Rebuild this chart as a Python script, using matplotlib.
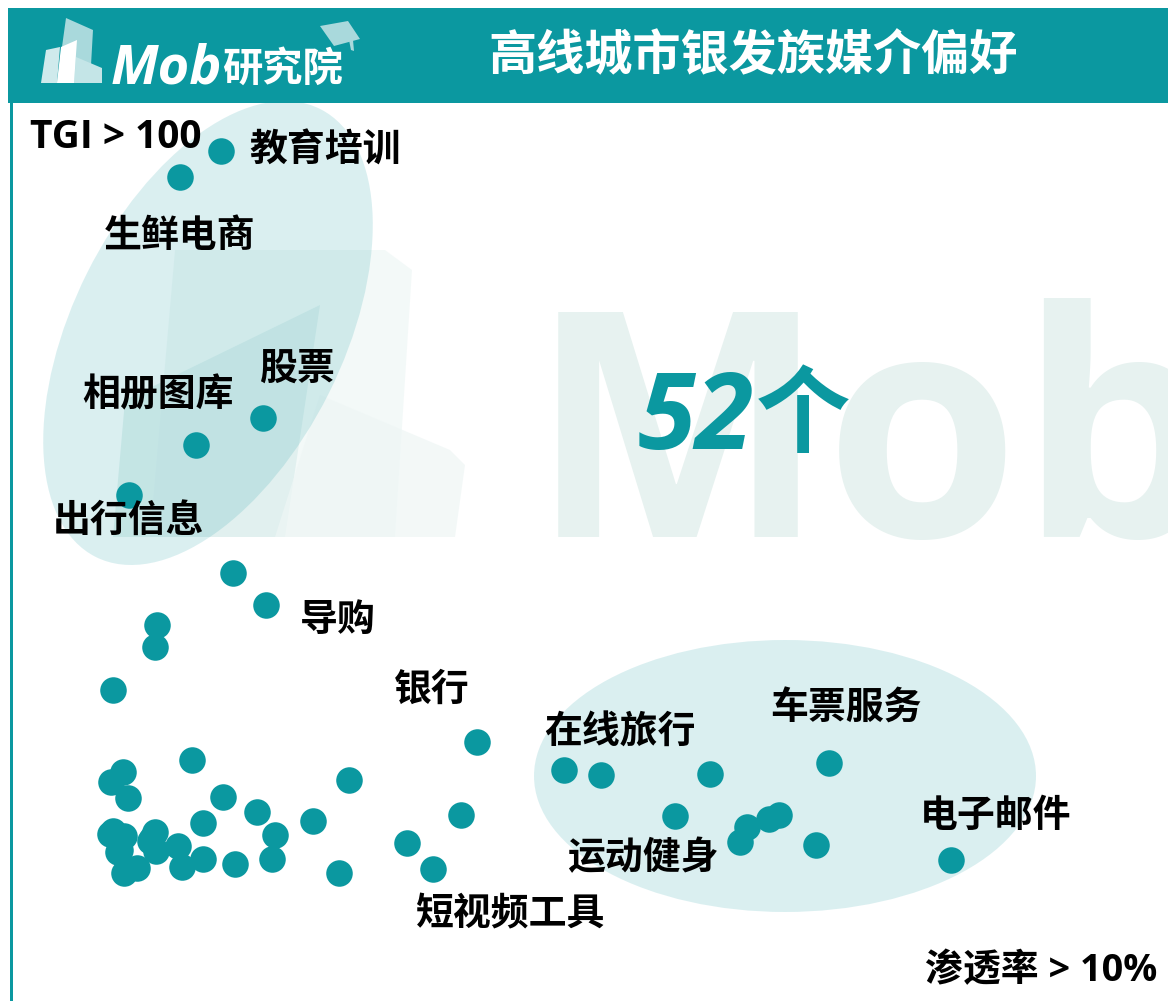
import matplotlib
matplotlib.use('Agg')
import matplotlib.pyplot as plt
from matplotlib.patches import Ellipse, Polygon, Rectangle

TEAL = '#0B98A0'
CJK = ['Open Sans', 'Noto Sans CJK SC', 'DejaVu Sans']

# 渗透率 / TGI, no scale on the picture so values are read in picture units
penetration = [220.5, 179.5, 262.5, 195.5, 128.5, 232.5, 265.5, 156.5, 154.5, 112.5,
               476.5, 563.5, 600.5, 709.5, 828.5, 674.5, 778.5, 768.5, 746.5, 739.5, 815.5, 950.5,
               191.5, 122.5, 110.5, 127.5, 348.5, 222.5, 256.5, 312.5, 202.5, 274.5, 406.5, 432.5,
               338.5, 271.5, 234.5, 202.5, 181.5, 177.5, 154.5, 149.5, 155.5, 112.5, 109.5, 123.5,
               117.5, 136.5, 123.5, 460.5, 119.5, 151.5]
tgi = [151, 177, 418, 445, 495, 573, 605, 625, 647, 690,
       742, 770, 775, 774, 763, 816, 815, 819, 827, 842, 845, 860,
       760, 772, 782, 798, 780, 797, 812, 821, 823, 835, 843, 869,
       873, 859, 864, 859, 867, 846, 832, 841, 851, 831, 834, 836,
       852, 868, 873, 815, 850, 838]

labels = ['教育培训', '生鲜电商', '股票', '相册图库', '出行信息', '导购', '银行',
          '在线旅行', '车票服务', '电子邮件', '运动健身', '短视频工具']
label_x = [325, 180, 297, 158, 129, 338, 432, 620, 846, 996, 643, 510]
label_y = [150, 236, 368, 395, 520, 619, 689, 732, 708, 815, 858, 914]

title = '高线城市银发族媒介偏好'

fig = plt.figure(figsize=(11.68, 10.01), dpi=100)
ax = fig.add_axes([0, 0, 1, 1])
ax.set_xlim(0, 1168)
ax.set_ylim(1001, 0)
ax.axis('off')

# watermark
ax.add_patch(Polygon([(175, 250), (385, 250), (412, 270), (395, 537), (150, 537)],
                     fc='#f1f8f7', ec='none', alpha=0.8, zorder=1))
ax.add_patch(Polygon([(320, 305), (285, 537), (113, 537), (125, 400)],
                     fc='#d5ebe9', ec='none', alpha=0.6, zorder=1))
ax.add_patch(Polygon([(320, 395), (450, 450), (465, 465), (455, 537), (275, 537)],
                     fc='#eef6f5', ec='none', alpha=0.7, zorder=1))
ax.text(530, 537, 'Mob', fontsize=226, family='Open Sans', weight='bold',
        color='#e7f2f0', ha='left', va='baseline', zorder=1)

# ellipses
ax.add_patch(Ellipse((208, 333), 270, 501, angle=26.6, fc=TEAL, ec='none', alpha=0.15, zorder=2))
ax.add_patch(Ellipse((785, 776), 502, 272, fc=TEAL, ec='none', alpha=0.15, zorder=2))

ax.scatter(penetration, tgi, s=365, c=TEAL, linewidths=0, zorder=3)

for name, x, y in zip(labels, label_x, label_y):
    ax.text(x, y, name, fontsize=27.3, family='Noto Sans CJK SC', weight=900,
            ha='center', va='center', color='black', zorder=4)

ax.text(116, 138, 'TGI > 100', fontsize=28, family='Open Sans', weight='bold',
        ha='center', va='center', color='black', zorder=4)
ax.text(1041, 971, '渗透率 > 10%', fontsize=27.3, family=CJK, weight='bold',
        ha='center', va='center', color='black', zorder=4)
ax.text(696, 449, '52', fontsize=76, family='Open Sans', weight='bold', style='italic',
        ha='center', va='baseline', color=TEAL, zorder=4)
ax.text(803, 417, '个', fontsize=68, family='Noto Sans CJK SC', weight='bold',
        ha='center', va='center', color=TEAL, zorder=4)

# header
ax.add_patch(Rectangle((8, 8), 1160, 95, fc=TEAL, ec='none', zorder=5))
ax.add_patch(Rectangle((10, 103), 2.5, 898, fc=TEAL, ec='none', zorder=5))
ax.text(753, 56, title, fontsize=34.7, family='Noto Sans CJK SC', weight=900,
        ha='center', va='center', color='white', zorder=6)

# logo
ax.add_patch(Polygon([(66, 18), (93, 30), (90, 83), (57, 83)],
                     fc='#a9d9dc', ec='none', zorder=6))
ax.add_patch(Polygon([(41, 83), (46, 50), (60, 47), (57, 83)],
                     fc='#cfeaec', ec='none', zorder=6))
ax.add_patch(Polygon([(74, 83), (76, 57), (102, 68), (102, 83)],
                     fc='#c4e5e7', ec='none', zorder=7))
ax.add_patch(Polygon([(57, 83), (61, 47), (77, 40), (74, 83)], fc='white', ec='none', zorder=7))
ax.add_patch(Polygon([(320, 26), (348, 21), (360, 39), (334, 46)],
                     fc='#a9d9dc', ec='none', zorder=6))
ax.add_patch(Polygon([(349, 40), (353, 40), (354, 51), (351, 50)],
                     fc='#a9d9dc', ec='none', zorder=6))
ax.text(111, 83, 'Mob', fontsize=39, family='Open Sans', weight='bold', style='italic',
        color='white', ha='left', va='baseline', zorder=7)
ax.text(222, 81, '研究院', fontsize=29, family='Noto Sans CJK SC', weight='bold', color='white',
        ha='left', va='baseline', zorder=7)

fig.savefig('out.png', dpi=100)
